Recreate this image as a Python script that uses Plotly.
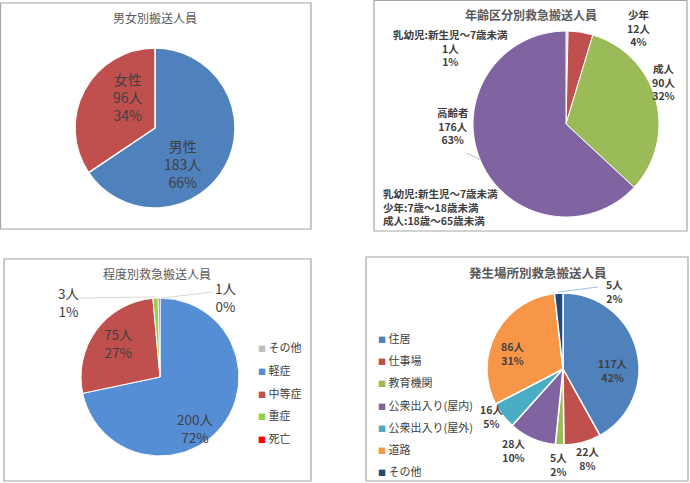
import plotly.graph_objects as go

W, H = 690, 483
FONT = "Noto Sans CJK JP"
TXT = "#404040"

# 男女別
sex_names = ["男性", "女性"]
sex_values = [183, 96]
sex_pct = [66, 34]
sex_colors = ["#4F81BD", "#C0504D"]

# 年齢区分別
age_names = ["乳幼児:新生児～7歳未満", "少年", "成人", "高齢者"]
age_values = [1, 12, 90, 176]
age_pct = [1, 4, 32, 63]
age_colors = ["#8EB4E3", "#C0504D", "#9BBB59", "#8064A2"]
age_notes = ["乳幼児:新生児～7歳未満", "少年:7歳～18歳未満", "成人:18歳～65歳未満"]

# 程度別
sev_names = ["その他", "軽症", "中等症", "重症", "死亡"]
sev_values = [0, 200, 75, 3, 1]
sev_pct = [0, 72, 27, 1, 0]
sev_colors = ["#BFBFBF", "#558ED5", "#C0504D", "#92D050", "#FF0000"]

# 発生場所別
loc_names = ["住居", "仕事場", "教育機関", "公衆出入り(屋内)", "公衆出入り(屋外)", "道路", "その他"]
loc_values = [117, 22, 5, 28, 16, 86, 5]
loc_pct = [42, 8, 2, 10, 5, 31, 2]
loc_colors = ["#4F81BD", "#C0504D", "#9BBB59", "#8064A2", "#4BACC6", "#F79646", "#1F497D"]


def px(x):
    return x / W


def py(y):
    return 1 - y / H


def dom(cx, cy, r):
    return dict(x=[px(cx - r), px(cx + r)], y=[py(cy + r), py(cy - r)])


def pie(names, values, colors, cx, cy, r, lw=1.5):
    return go.Pie(labels=names, values=values, sort=False, direction="clockwise",
                  marker=dict(colors=colors, line=dict(color="white", width=lw)),
                  textinfo="none", showlegend=False, domain=dom(cx, cy, r))


fig = go.Figure()
fig.add_trace(pie(sex_names, sex_values, sex_colors, 155, 128, 80))
fig.add_trace(pie(age_names, age_values, age_colors, 566, 124, 93, 1))
fig.add_trace(pie(sev_names, sev_values, sev_colors, 160, 377, 79, 1))
fig.add_trace(pie(loc_names, loc_values, loc_colors, 563, 369, 76))

ann = []


def label(text, x, y, size, bold=False, color=TXT, xanchor="center", align="center"):
    if bold:
        text = "<b>" + text + "</b>"
    ann.append(dict(text=text, x=px(x), y=py(y), xref="paper", yref="paper",
                    showarrow=False, xanchor=xanchor, yanchor="middle", align=align,
                    font=dict(family=FONT, size=size, color=color)))


# titles
label("男女別搬送人員", 155, 17, 12, color="#595959")
label("年齢区分別救急搬送人員", 531, 14, 12, True, "#595959")
label("程度別救急搬送人員", 157, 273, 12, color="#595959")
label("発生場所別救急搬送人員", 538, 272, 12.5, True, "#595959")

# panel 1
pos1 = [(182, 164), (128, 97)]
for n, v, p, (x, y) in zip(sex_names, sex_values, sex_pct, pos1):
    label(f"{n}<br>{v}人<br>{p}%", x, y, 14)

# panel 2
pos2 = [(450, 48), (638, 28), (663, 82), (453, 126)]
for n, v, p, (x, y) in zip(age_names, age_values, age_pct, pos2):
    label(f"{n}<br>{v}人<br>{p}%", x, y, 10.5, True)
label("<br>".join(age_notes), 381, 207, 10.5, True, xanchor="left", align="left")

# panel 3
pos3 = [None, (195, 428), (118, 343), (68, 302), (225, 297)]
for v, p, xy in zip(sev_values, sev_pct, pos3):
    if xy:
        label(f"{v}人<br>{p}%", xy[0], xy[1], 13.5)

# panel 4
pos4 = [(613, 370), (587, 458), (558, 464), (513, 450), (491, 416), (512, 353), (614, 291)]
for v, p, (x, y) in zip(loc_values, loc_pct, pos4):
    label(f"{v}人<br>{p}%", x, y, 10.5, True)

# legends
for i, (n, c) in enumerate(zip(sev_names, sev_colors)):
    label(f"<span style='color:{c};font-size:8px'>■</span> {n}", 256, 347 + 22.8 * i, 11,
          xanchor="left", align="left")
for i, (n, c) in enumerate(zip(loc_names, loc_colors)):
    label(f"<span style='color:{c};font-size:8px'>■</span> {n}", 376, 338 + 22.2 * i, 11,
          xanchor="left", align="left")

shapes = []
for x0, y0, x1, y1 in [(0.5, 3, 311, 229), (374, 0.5, 687, 231), (4, 259, 311, 481), (366, 257, 688, 481)]:
    shapes.append(dict(type="rect", xref="paper", yref="paper", x0=px(x0), x1=px(x1),
                       y0=py(y1), y1=py(y0), line=dict(color="#A6A6A6", width=1.2)))
for x0, y0, x1, y1, c in [(467, 153, 481, 160, "#BFBFBF"), (80, 298, 155, 297, "#D9D9D9"),
                          (213, 292, 162, 298, "#D9D9D9"), (558, 292, 598, 287, "#9DC3E6")]:
    shapes.append(dict(type="line", xref="paper", yref="paper", x0=px(x0), y0=py(y0),
                       x1=px(x1), y1=py(y1), line=dict(color=c, width=1)))

fig.update_layout(width=W, height=H, margin=dict(l=0, r=0, t=0, b=0),
                  paper_bgcolor="white", plot_bgcolor="white",
                  font=dict(family=FONT, color=TXT),
                  annotations=ann, shapes=shapes, showlegend=False)
fig.write_html("out.html", config={"displayModeBar": False},
               post_script="document.body.style.margin='0';")
